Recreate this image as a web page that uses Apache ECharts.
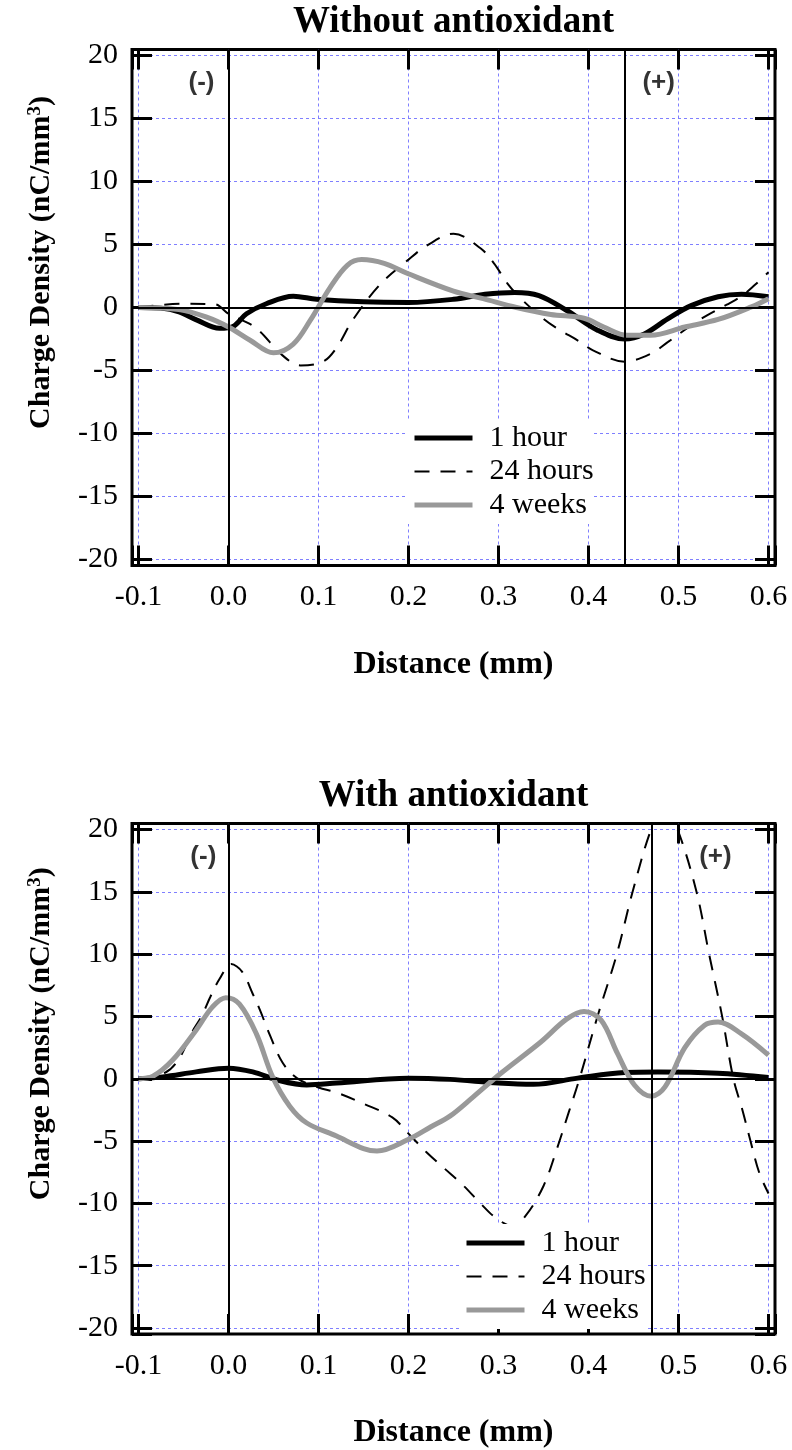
<!DOCTYPE html>
<html>
<head>
<meta charset="utf-8">
<script src="https://cdn.jsdelivr.net/npm/echarts/dist/echarts.min.js"></script>
<style>
  html, body { margin: 0; padding: 0; background: #fff; }
  #chart { width: 792px; height: 1450px; }
</style>
</head>
<body>
<div id="chart"></div>
<script>
const SERIES_NAMES = ["1 hour", "24 hours", "4 weeks"];
const PANEL_TITLES = ["Without antioxidant", "With antioxidant"];

// electrode positions (mm) drawn as solid vertical lines
const ELECTRODES_TOP = [0, 0.44];
const ELECTRODES_BOTTOM = [0, 0.475];

// "(-)" / "(+)" labels, placed in data units
const NOTE_TEXT = ["(-)", "(+)"];
const NOTE_X_TOP = [-0.03, 0.478];
const NOTE_X_BOTTOM = [-0.028, 0.541];
const NOTE_Y = 17.8;

// ---- Without antioxidant ----
const top1hX = [-0.1, -0.075, -0.055, -0.035, -0.01, 0.005, 0.02, 0.042, 0.072, 0.098, 0.15, 0.2, 0.25, 0.285, 0.318, 0.345, 0.375, 0.41, 0.44, 0.462, 0.488, 0.514, 0.544, 0.57, 0.6];
const top1hY = [0, -0.05, -0.35, -1.0, -1.65, -1.5, -0.5, 0.3, 0.9, 0.65, 0.45, 0.4, 0.65, 1.05, 1.2, 0.95, -0.2, -1.8, -2.5, -2.1, -0.9, 0.15, 0.85, 1.05, 0.85];

const top24hX = [-0.1, -0.05, -0.015, 0.0, 0.03, 0.06, 0.08, 0.105, 0.12, 0.138, 0.168, 0.2, 0.22, 0.25, 0.28, 0.295, 0.31, 0.325, 0.35, 0.365, 0.39, 0.405, 0.44, 0.47, 0.488, 0.525, 0.553, 0.57, 0.585, 0.6];
const top24hY = [0, 0.3, 0.25, -0.5, -1.6, -3.8, -4.6, -4.3, -3.2, -1.0, 1.8, 3.8, 4.9, 5.85, 4.7, 3.5, 1.9, 0.7, -0.9, -1.65, -2.7, -3.4, -4.3, -3.65, -2.75, -0.9, 0.2, 0.9, 1.8, 2.8];

const top4wX = [-0.1, -0.055, -0.025, 0.0, 0.024, 0.05, 0.072, 0.091, 0.113, 0.132, 0.148, 0.173, 0.199, 0.25, 0.283, 0.32, 0.358, 0.395, 0.417, 0.443, 0.469, 0.507, 0.544, 0.581, 0.6];
const top4wY = [0, -0.17, -0.75, -1.55, -2.6, -3.6, -2.9, -1.0, 1.6, 3.35, 3.8, 3.5, 2.7, 1.3, 0.7, 0.0, -0.55, -0.85, -1.55, -2.2, -2.2, -1.55, -0.95, 0.05, 0.7];

// ---- With antioxidant ----
const bot1hX = [-0.1, -0.073, -0.036, 0.0, 0.027, 0.054, 0.087, 0.12, 0.2, 0.246, 0.3, 0.339, 0.388, 0.44, 0.477, 0.544, 0.6];
const bot1hY = [0, 0.15, 0.55, 0.85, 0.55, -0.1, -0.5, -0.35, 0.05, -0.05, -0.35, -0.45, 0.05, 0.5, 0.55, 0.45, 0.1];

const bot24hX = [-0.1, -0.07, -0.055, -0.04, -0.03, -0.02, -0.01, 0.003, 0.015, 0.027, 0.035, 0.046, 0.06, 0.076, 0.1, 0.12, 0.15, 0.182, 0.2, 0.22, 0.24, 0.26, 0.28, 0.296, 0.315, 0.33, 0.35, 0.365, 0.378, 0.39, 0.41, 0.4315, 0.449, 0.4695, 0.484, 0.499, 0.52, 0.534, 0.5485, 0.561, 0.571, 0.58, 0.59, 0.6];
const bot24hY = [0, 0.5, 1.6, 3.8, 5.0, 6.6, 8.0, 9.2, 8.6, 6.8, 5.5, 3.5, 1.3, 0.05, -0.7, -1.1, -2.0, -3.1, -4.4, -5.9, -7.2, -8.5, -10.0, -11.1, -11.8, -11.0, -8.6, -5.6, -2.7, 0.0, 5.0, 10.0, 15.0, 20.0, 22.0, 20.0, 15.0, 10.0, 5.0, 0.0, -2.5, -5.0, -7.6, -9.2];

const bot4wX = [-0.1, -0.084, -0.062, -0.036, -0.018, -0.003, 0.012, 0.031, 0.049, 0.068, 0.087, 0.12, 0.15, 0.165, 0.199, 0.225, 0.246, 0.272, 0.302, 0.347, 0.376, 0.395, 0.414, 0.432, 0.451, 0.47, 0.485, 0.507, 0.529, 0.544, 0.57, 0.6];
const bot4wY = [0, 0.2, 1.5, 3.9, 5.75, 6.5, 6.0, 3.6, 0.15, -2.2, -3.55, -4.6, -5.6, -5.8, -4.9, -3.85, -3.0, -1.45, 0.4, 2.95, 4.8, 5.4, 4.7, 2.05, -0.5, -1.4, -0.65, 2.5, 4.3, 4.55, 3.6, 1.9];

const SERIF = "'Liberation Serif', 'Times New Roman', serif";
const SANS = "'Liberation Sans', Arial, sans-serif";
const GRID_BLUE = "#7f7fff";
// 643px wide plot at 900px/mm and 516px tall at 12.6px/unit,
// so the dashed gridlines land on half pixels and stay crisp
const X_MIN = -0.1 - 6.5 / 900, X_MAX = X_MIN + 643 / 900;
const Y_MAX = 258 / 12.6, Y_MIN = -Y_MAX;

const zip = (xs, ys) => xs.map((x, i) => [x, ys[i]]);

const fmtX = (v) => {
  const t = Math.round(v * 10);
  return Math.abs(v * 10 - t) < 1e-6 ? (t / 10).toFixed(1) : "";
};
const fmtY = (v) => {
  const t = Math.round(v);
  return Math.abs(v - t) < 1e-6 && t % 5 === 0 ? String(t) : "";
};

const noLine = { show: false, onZero: false };
const tick = { inside: true, length: 20, lineStyle: { color: "#000", width: 3 } };
const split = { show: true, showMinLine: false, showMaxLine: false, lineStyle: { color: GRID_BLUE, width: 1, type: [3, 3] } };
const tickFont = { fontFamily: SERIF, fontSize: 30, color: "#000" };

function xAxes(g, title) {
  return [
    {
      type: "value", gridIndex: g, position: "bottom", min: X_MIN, max: X_MAX, splitNumber: 7,
      axisLine: noLine, axisTick: tick,
      axisLabel: { ...tickFont, margin: 17, formatter: fmtX },
      splitLine: split,
      name: "Distance (mm)", nameLocation: "middle", nameGap: 83,
      nameTextStyle: { fontFamily: SERIF, fontWeight: "bold", fontSize: 32, color: "#000" }
    },
    {
      type: "value", gridIndex: g, position: "top", min: X_MIN, max: X_MAX, splitNumber: 7,
      axisLine: noLine, axisTick: tick, axisLabel: { show: false }, splitLine: { show: false },
      name: title, nameLocation: "middle", nameGap: 9,
      nameTextStyle: { fontFamily: SERIF, fontWeight: "bold", fontSize: 37, color: "#000" }
    }
  ];
}

function yAxes(g) {
  return [
    {
      type: "value", gridIndex: g, position: "left", min: Y_MIN, max: Y_MAX, splitNumber: 8,
      axisLine: noLine, axisTick: tick,
      axisLabel: { ...tickFont, margin: 14, formatter: fmtY },
      splitLine: split,
      name: "{a|Charge Density (nC/mm}{s|3}{a|)}", nameLocation: "middle", nameGap: 76,
      nameTextStyle: {
        color: "#000",
        padding: [0, 0, 0, 90],
        rich: {
          a: { fontFamily: SERIF, fontWeight: "bold", fontSize: 30, color: "#000" },
          s: { fontFamily: SERIF, fontWeight: "bold", fontSize: 19, color: "#000", verticalAlign: "top" }
        }
      }
    },
    {
      type: "value", gridIndex: g, position: "right", min: Y_MIN, max: Y_MAX, splitNumber: 8,
      axisLine: noLine, axisTick: tick, axisLabel: { show: false }, splitLine: { show: false }
    }
  ];
}

const STYLES = [
  { color: "#000", lineStyle: { color: "#000", width: 5 } },
  { color: "#000", lineStyle: { color: "#000", width: 2, type: [15, 11] } },
  { color: "#999", lineStyle: { color: "#999", width: 5 } }
];

function curve(i, axis, xs, ys, extra) {
  return {
    type: "line", name: SERIES_NAMES[i], xAxisIndex: axis, yAxisIndex: axis,
    data: zip(xs, ys), symbol: "none", showSymbol: false, smooth: 0.35, clip: true,
    color: STYLES[i].color, lineStyle: STYLES[i].lineStyle, z: 2 + i * 0.1,
    emphasis: { disabled: true }, ...extra
  };
}

function guides(electrodes) {
  return {
    markLine: {
      silent: true, symbol: "none", label: { show: false }, animation: false,
      lineStyle: { color: "#000", width: 2, type: "solid" },
      emphasis: { disabled: true },
      data: [...electrodes.map((x) => ({ xAxis: x })), { yAxis: 0 }]
    }
  };
}

function notes(axis, xs) {
  return {
    type: "scatter", xAxisIndex: axis, yAxisIndex: axis, silent: true, z: 3,
    symbolSize: 0, itemStyle: { color: "transparent" },
    data: xs.map((x, i) => [x, NOTE_Y, NOTE_TEXT[i]]),
    label: {
      show: true, position: "inside", formatter: (p) => p.data[2],
      fontFamily: SANS, fontWeight: "bold", fontSize: 26, color: "#000"
    }
  };
}

function legend(left, top) {
  return {
    data: SERIES_NAMES.map((name, i) => ({
      name,
      lineStyle: { width: STYLES[i].lineStyle.width, type: STYLES[i].lineStyle.type || "solid", color: STYLES[i].color }
    })),
    orient: "vertical", left, top,
    itemWidth: 58, itemHeight: 14, itemGap: 3.5, padding: [4, 0, 4, 4],
    backgroundColor: "#fff", selectedMode: false, z: 10,
    itemStyle: { opacity: 0 },
    textStyle: { fontFamily: SERIF, fontSize: 30, color: "#000", lineHeight: 30, padding: [0, 0, 0, 12] }
  };
}

const chart = echarts.init(document.getElementById("chart"), null, { renderer: "canvas" });
chart.setOption({
  animation: false,
  backgroundColor: "#fff",
  grid: [
    { left: 132, right: 17, top: 49.5, bottom: 884.5, show: true, borderColor: "#000", borderWidth: 3, backgroundColor: "transparent" },
    { left: 132, right: 17, top: 823.5, bottom: 110.5, show: true, borderColor: "#000", borderWidth: 3, backgroundColor: "transparent" }
  ],
  xAxis: [...xAxes(0, PANEL_TITLES[0]), ...xAxes(1, PANEL_TITLES[1])],
  yAxis: [...yAxes(0), ...yAxes(1)],
  legend: [legend(408, 419), legend(460, 1224)],
  series: [
    curve(0, 0, top1hX, top1hY, guides(ELECTRODES_TOP)),
    curve(1, 0, top24hX, top24hY),
    curve(2, 0, top4wX, top4wY),
    notes(0, NOTE_X_TOP),
    curve(0, 2, bot1hX, bot1hY, guides(ELECTRODES_BOTTOM)),
    curve(1, 2, bot24hX, bot24hY),
    curve(2, 2, bot4wX, bot4wY),
    notes(2, NOTE_X_BOTTOM)
  ]
});
</script>
</body>
</html>
